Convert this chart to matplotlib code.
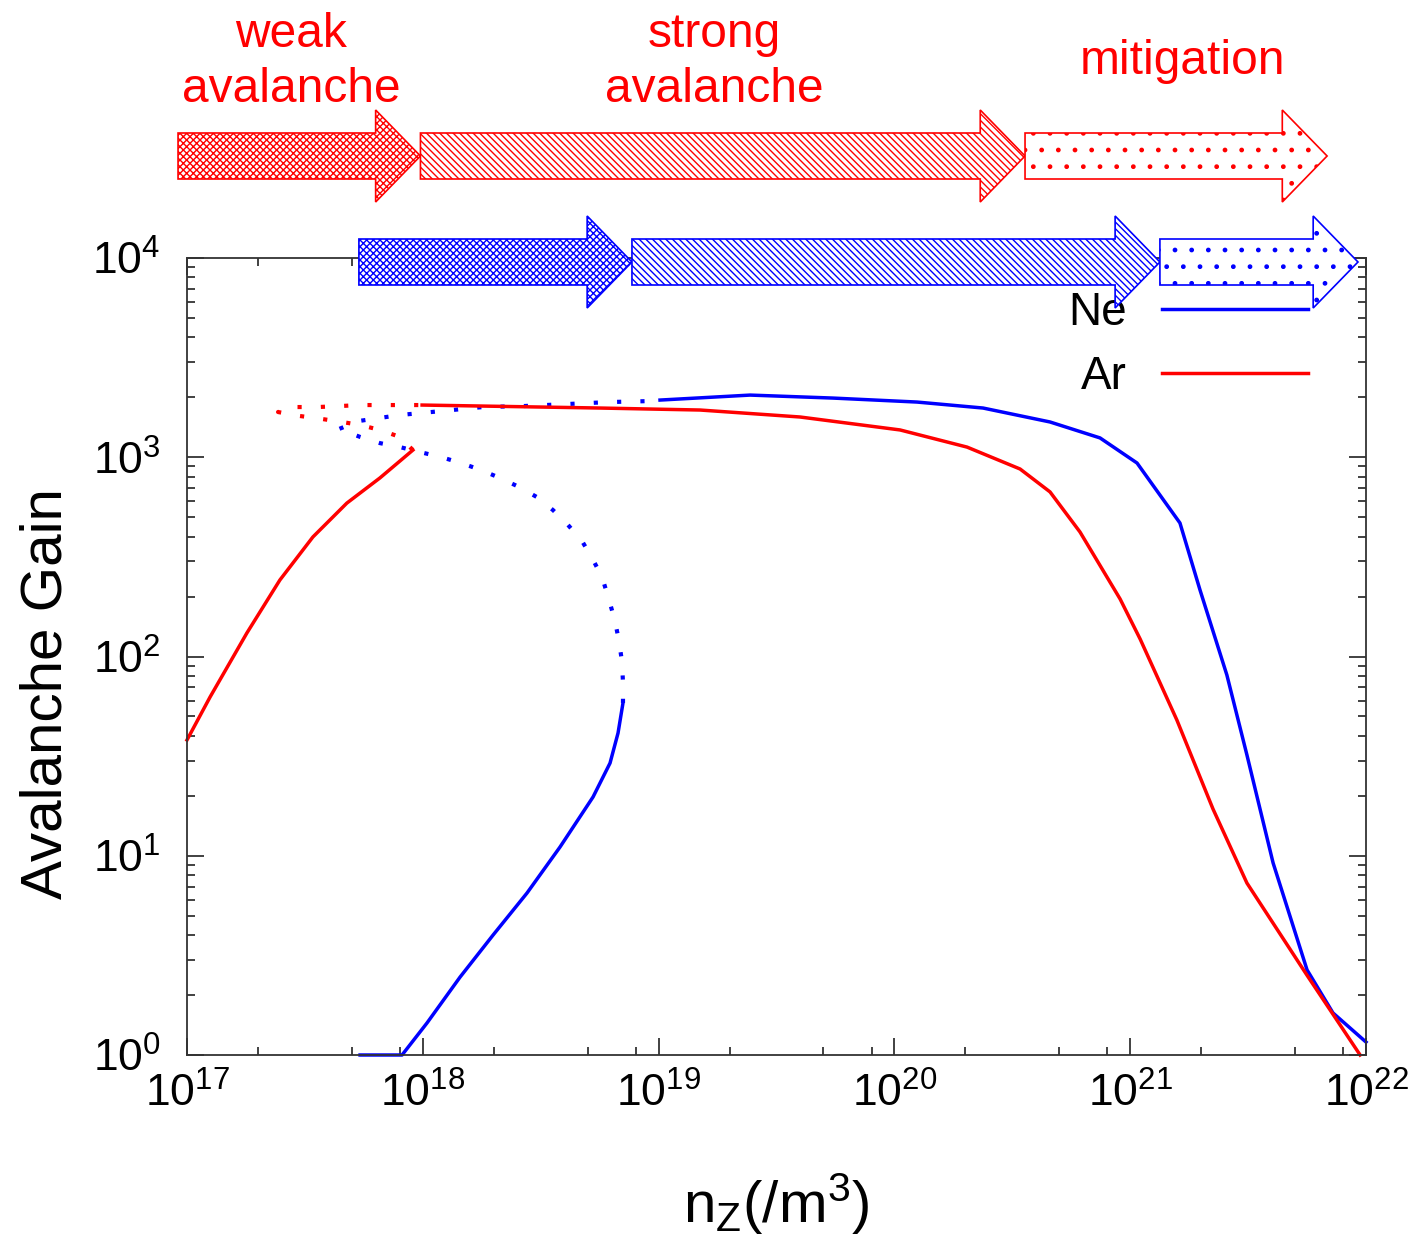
import numpy as np
import matplotlib
matplotlib.use("Agg")
import matplotlib.pyplot as plt
import matplotlib.transforms as mtransforms
from matplotlib.patches import Polygon
from matplotlib.ticker import LogLocator, NullFormatter

plt.rcParams['font.family'] = ['Liberation Sans', 'DejaVu Sans']
plt.rcParams['mathtext.fontset'] = 'custom'
plt.rcParams['mathtext.rm'] = 'Liberation Sans'
plt.rcParams['mathtext.it'] = 'Liberation Sans:italic'
plt.rcParams['hatch.linewidth'] = 1.0

# curves, as log10 of n_Z and log10 of gain
ne_low_x = [17.734, 17.912, 18.018, 18.158, 18.298, 18.442, 18.582, 18.722, 18.794, 18.828, 18.849]
ne_low_y = [0.0, 0.0, 0.161, 0.391, 0.602, 0.813, 1.044, 1.295, 1.465, 1.616, 1.767]

ne_mid_x = [18.849, 18.849, 18.845, 18.832, 18.815, 18.79, 18.76, 18.718, 18.675, 18.616, 18.552,
            18.484, 18.408, 18.327, 18.247, 18.162, 18.077, 17.988, 17.903, 17.818, 17.734, 17.645,
            17.729, 17.903, 18.081, 18.255, 18.429, 18.611, 18.79, 18.964, 19.006]
ne_mid_y = [1.767, 1.867, 1.972, 2.078, 2.178, 2.284, 2.399, 2.494, 2.58, 2.66, 2.735,
            2.80, 2.851, 2.896, 2.936, 2.971, 3.001, 3.026, 3.051, 3.071, 3.102, 3.142,
            3.182, 3.212, 3.232, 3.252, 3.257, 3.267, 3.277, 3.282, 3.287]

ne_high_x = [19.006, 19.388, 19.74, 20.096, 20.376, 20.66, 20.872, 21.029, 21.211, 21.296,
             21.41, 21.495, 21.606, 21.75, 21.86, 22.0]
ne_high_y = [3.287, 3.312, 3.297, 3.277, 3.247, 3.177, 3.097, 2.971, 2.67, 2.334,
             1.907, 1.506, 0.964, 0.427, 0.211, 0.065]

ar_low_x = [17.0, 17.098, 17.254, 17.394, 17.534, 17.678, 17.818, 17.958]
ar_low_y = [1.581, 1.797, 2.118, 2.384, 2.60, 2.77, 2.896, 3.036]

ar_mid_x = [17.958, 17.903, 17.818, 17.734, 17.657, 17.573, 17.479, 17.386,
            17.466, 17.556, 17.649, 17.734, 17.827, 17.912, 17.997]
ar_mid_y = [3.036, 3.102, 3.137, 3.162, 3.177, 3.192, 3.207, 3.227,
            3.252, 3.252, 3.257, 3.262, 3.262, 3.262, 3.262]

ar_high_x = [17.997, 18.751, 19.176, 19.60, 20.024, 20.308, 20.533, 20.66, 20.787, 20.957,
             21.042, 21.198, 21.351, 21.495, 21.75, 21.975]
ar_high_y = [3.262, 3.247, 3.237, 3.202, 3.137, 3.051, 2.941, 2.826, 2.625, 2.289,
             2.088, 1.681, 1.235, 0.863, 0.40, 0.0]

# regime boundaries (log10 n_Z) for the arrows
ar_regimes = [16.962, 17.99, 20.554, 21.835]
ne_regimes = [17.729, 18.887, 21.126, 21.966]
regime_names = ["weak\navalanche", "strong\navalanche", "mitigation"]
hatches = ["xxxxx", "\\\\\\\\\\", "."]

W, H = 1415, 1238
fig = plt.figure(figsize=(W / 100, H / 100), dpi=100)
ax = fig.add_axes([187 / W, 1 - 1055 / H, (1366 - 187) / W, (1055 - 258) / H])

blue = '#0000ff'
red = '#ff0000'
lw = 2.5
dots = (0, (1, 4.6))

def p10(v):
    return 10 ** np.array(v)

ne_line, = ax.plot(p10(ne_low_x), p10(ne_low_y), color=blue, lw=lw, clip_on=False)
ax.plot(p10(ne_mid_x), p10(ne_mid_y), color=blue, lw=3.0, ls=dots, clip_on=False)
ax.plot(p10(ne_high_x), p10(ne_high_y), color=blue, lw=lw, clip_on=False)
ar_line, = ax.plot(p10(ar_low_x), p10(ar_low_y), color=red, lw=lw, clip_on=False)
ax.plot(p10(ar_mid_x), p10(ar_mid_y), color=red, lw=3.0, ls=dots, clip_on=False)
ax.plot(p10(ar_high_x), p10(ar_high_y), color=red, lw=lw, clip_on=False)

ax.set_xscale('log')
ax.set_yscale('log')
ax.set_xlim(1e17, 1e22)
ax.set_ylim(1, 1e4)
ax.xaxis.set_major_locator(LogLocator(base=10, numticks=10))
ax.xaxis.set_minor_locator(LogLocator(base=10, subs=(2, 5, 8), numticks=10))
ax.xaxis.set_minor_formatter(NullFormatter())
ax.yaxis.set_minor_locator(LogLocator(base=10, subs=(2, 3, 4, 5, 6, 7, 8, 9), numticks=10))
ax.yaxis.set_minor_formatter(NullFormatter())

ax.tick_params(which='both', direction='in', top=True, right=True, color='#333333', width=1.3)
ax.tick_params(which='major', length=12, labelsize=32)
ax.tick_params(which='minor', length=6)
ax.tick_params(axis='x', which='major', pad=13)
ax.tick_params(axis='y', which='major', pad=19)
for s in ax.spines.values():
    s.set_linewidth(1.3)
    s.set_color('#333333')

ax.set_xlabel(r'$\mathregular{n_Z(/m^3)}$', fontsize=42)
ax.xaxis.set_label_coords(0.5, -0.146)
ax.set_ylabel('Avalanche Gain', fontsize=42)
ax.yaxis.set_label_coords(-0.096, 0.453)

ax.legend([ne_line, ar_line], ['Ne', 'Ar'], loc='upper right', bbox_to_anchor=(0.951, 0.958),
          frameon=False, fontsize=33, markerfirst=False, handlelength=3.2,
          handletextpad=0.75, labelspacing=0.42, borderaxespad=0, borderpad=0)

# regime arrows above the plot
trans = mtransforms.blended_transform_factory(ax.transData, fig.transFigure)

def draw_arrow(x0, x1, yc, hatch, color):
    xh = x1 - 0.19
    bh = 23 / H
    hh = 46 / H
    verts = [(x0, yc - bh), (xh, yc - bh), (xh, yc - hh), (x1, yc),
             (xh, yc + hh), (xh, yc + bh), (x0, yc + bh)]
    verts = [(10 ** vx, vy) for vx, vy in verts]
    p = Polygon(verts, closed=True, transform=trans, facecolor='white', edgecolor=color,
                hatch=hatch, lw=1.2, clip_on=False, zorder=10)
    fig.add_artist(p)

for i in range(3):
    draw_arrow(ar_regimes[i], ar_regimes[i + 1], 1 - 156 / H, hatches[i], red)
    draw_arrow(ne_regimes[i], ne_regimes[i + 1], 1 - 262 / H, hatches[i], blue)

label_x = [291, 714, 1183]
label_y = [62, 62, 62]
for name, lx, ly in zip(regime_names, label_x, label_y):
    fig.text(lx / W, 1 - ly / H, name, ha='center', va='center', color=red,
             fontsize=34.5, linespacing=1.3)

fig.savefig('out.png', dpi=100)
